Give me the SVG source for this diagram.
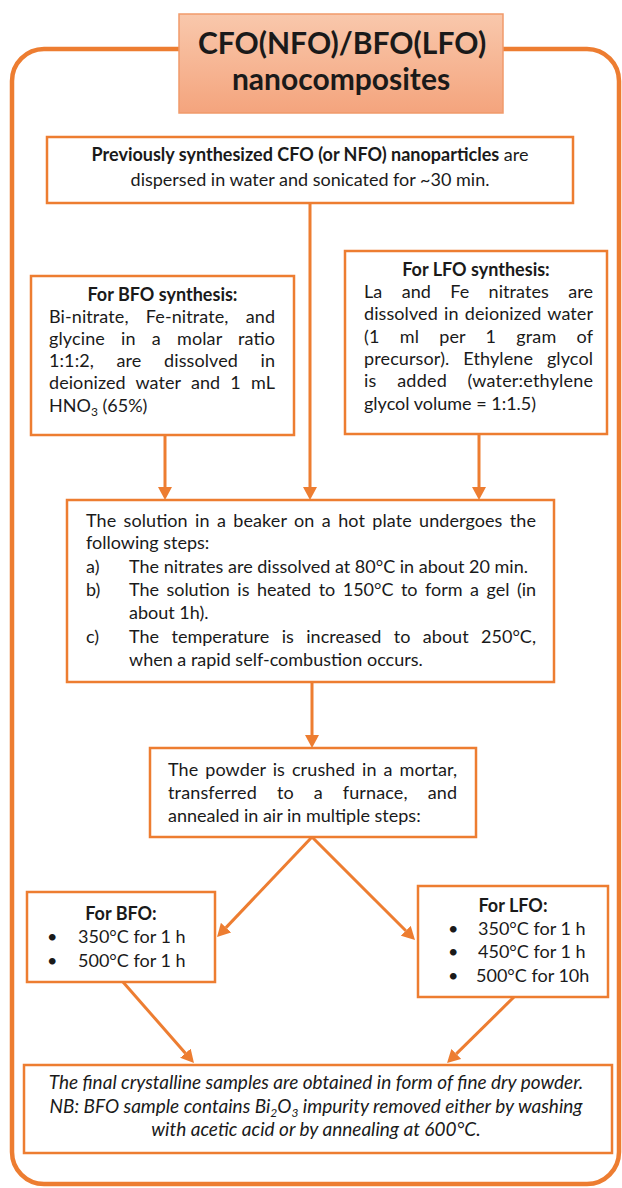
<svg xmlns="http://www.w3.org/2000/svg" width="622" height="1188" viewBox="0 0 622 1188">
<defs>
<linearGradient id="tg" x1="0" y1="0" x2="0" y2="1">
<stop offset="0" stop-color="#F9C8AC"/>
<stop offset="1" stop-color="#F4A47D"/>
</linearGradient>
<marker id="ah" viewBox="0 0 13 14" refX="0" refY="7" markerWidth="13" markerHeight="14" markerUnits="userSpaceOnUse" orient="auto">
<path d="M0,0 L13,7 L0,14 z" fill="#ED7D31"/>
</marker>
<style>
.box{fill:#fff;stroke:#ED7D31;stroke-width:2.5}
.t{font-family:Lato,'Liberation Sans',sans-serif;font-size:18px;fill:#1a1a1a}
.b{font-weight:bold}
.i{font-style:italic;font-size:19px}
.c{text-anchor:middle}
.con{stroke:#ED7D31;stroke-width:3;fill:none}
.sub{font-size:12px}
</style>
</defs>
<rect x="0" y="0" width="622" height="1188" fill="#fff"/>
<g id="frame">
<rect x="12" y="49" width="607" height="1135" rx="32" ry="32" fill="none" stroke="#ED7D31" stroke-width="4.5"/>
</g>
<g id="title">
<rect x="179" y="14" width="324" height="99" fill="url(#tg)" stroke="#F19A6B" stroke-width="1.5"/>
<text x="342" y="54" class="t b c" style="font-size:30px">CFO(NFO)/BFO(LFO)</text>
<text x="341" y="90" class="t b c" style="font-size:30px">nanocomposites</text>
</g>
<g id="connectors">
<line x1="310" y1="203" x2="310" y2="487" class="con" marker-end="url(#ah)"/>
<line x1="165" y1="435" x2="165" y2="487" class="con" marker-end="url(#ah)"/>
<line x1="479" y1="434" x2="479" y2="487" class="con" marker-end="url(#ah)"/>
<line x1="312" y1="682" x2="312" y2="735" class="con" marker-end="url(#ah)"/>
<line x1="312" y1="837" x2="226" y2="927.6" class="con" marker-end="url(#ah)"/>
<line x1="312" y1="837" x2="405.8" y2="930.8" class="con" marker-end="url(#ah)"/>
<line x1="123" y1="982" x2="185.4" y2="1053.2" class="con" marker-end="url(#ah)"/>
<line x1="514" y1="997" x2="456.3" y2="1053.9" class="con" marker-end="url(#ah)"/>
</g>
<g id="start">
<rect x="47" y="137" width="526" height="66" class="box"/>
<text x="310" y="161" class="t c"><tspan class="b">Previously synthesized CFO (or NFO) nanoparticles</tspan> are</text>
<text x="310" y="186" class="t c">dispersed in water and sonicated for ~30 min.</text>
</g>
<g id="bfo-synthesis">
<rect x="31" y="276" width="263" height="159" class="box"/>
<text x="162.5" y="301" class="t b c">For BFO synthesis:</text>
<text x="49" y="323" class="t" style="word-spacing:12.5px" textLength="226" lengthAdjust="spacing">Bi-nitrate, Fe-nitrate, and</text>
<text x="49" y="345" class="t" style="word-spacing:11.4px" textLength="226" lengthAdjust="spacing">glycine in a molar ratio</text>
<text x="49" y="367" class="t" style="word-spacing:18px" textLength="226" lengthAdjust="spacing">1:1:2, are dissolved in</text>
<text x="49" y="389" class="t" style="word-spacing:5.5px" textLength="226" lengthAdjust="spacing">deionized water and 1 mL</text>
<text x="49" y="412" class="t">HNO<tspan class="sub" dy="4">3</tspan><tspan dy="-4"> (65%)</tspan></text>
</g>
<g id="lfo-synthesis">
<rect x="345" y="251" width="262" height="183" class="box"/>
<text x="476" y="276" class="t b c">For LFO synthesis:</text>
<text x="364" y="298" class="t" style="word-spacing:14.6px" textLength="229" lengthAdjust="spacing">La and Fe nitrates are</text>
<text x="364" y="320" class="t" style="word-spacing:1.5px" textLength="229" lengthAdjust="spacing">dissolved in deionized water</text>
<text x="364" y="343" class="t" style="word-spacing:15.5px" textLength="229" lengthAdjust="spacing">(1 ml per 1 gram of</text>
<text x="364" y="365" class="t" style="word-spacing:9.1px" textLength="229" lengthAdjust="spacing">precursor). Ethylene glycol</text>
<text x="364" y="387" class="t" style="word-spacing:15.9px" textLength="229" lengthAdjust="spacing">is added (water:ethylene</text>
<text x="364" y="410" class="t">glycol volume = 1:1.5)</text>
</g>
<g id="solution">
<rect x="67" y="500" width="487" height="182" class="box"/>
<text x="86" y="527" class="t" style="word-spacing:2.7px" textLength="450" lengthAdjust="spacing">The solution in a beaker on a hot plate undergoes the</text>
<text x="86" y="549" class="t">following steps:</text>
<text x="86" y="573" class="t">a)</text>
<text x="129" y="573" class="t">The nitrates are dissolved at 80°C in about 20 min.</text>
<text x="86" y="596" class="t">b)</text>
<text x="129" y="596" class="t" style="word-spacing:3px" textLength="407" lengthAdjust="spacing">The solution is heated to 150°C to form a gel (in</text>
<text x="129" y="619" class="t">about 1h).</text>
<text x="86" y="643" class="t">c)</text>
<text x="129" y="643" class="t" style="word-spacing:7.8px" textLength="407" lengthAdjust="spacing">The temperature is increased to about 250°C,</text>
<text x="129" y="666" class="t">when a rapid self-combustion occurs.</text>
</g>
<g id="powder">
<rect x="150" y="748" width="326" height="89" class="box"/>
<text x="168" y="776" class="t" style="word-spacing:2.2px" textLength="289" lengthAdjust="spacing">The powder is crushed in a mortar,</text>
<text x="168" y="799" class="t" style="word-spacing:15.2px" textLength="289" lengthAdjust="spacing">transferred to a furnace, and</text>
<text x="168" y="822" class="t">annealed in air in multiple steps:</text>
</g>
<g id="bfo-anneal">
<rect x="27" y="892" width="188" height="90" class="box"/>
<text x="121" y="920" class="t b c">For BFO:</text>
<text x="47" y="943" class="t">•</text>
<text x="78" y="943" class="t">350°C for 1 h</text>
<text x="47" y="967" class="t">•</text>
<text x="78" y="967" class="t">500°C for 1 h</text>
</g>
<g id="lfo-anneal">
<rect x="418" y="886" width="190" height="111" class="box"/>
<text x="513" y="912" class="t b c">For LFO:</text>
<text x="448" y="935" class="t">•</text>
<text x="478" y="935" class="t">350°C for 1 h</text>
<text x="448" y="958" class="t">•</text>
<text x="478" y="958" class="t">450°C for 1 h</text>
<text x="448" y="982" class="t">•</text>
<text x="476" y="982" class="t">500°C for 10h</text>
</g>
<g id="final">
<rect x="24" y="1065" width="588" height="88" class="box"/>
<text x="316" y="1089" class="t i c">The final crystalline samples are obtained in form of fine dry powder.</text>
<text x="316" y="1113" class="t i c">NB: BFO sample contains Bi<tspan class="sub" dy="4">2</tspan><tspan dy="-4">O</tspan><tspan class="sub" dy="4">3</tspan><tspan dy="-4"> impurity removed either by washing</tspan></text>
<text x="316" y="1136" class="t i c">with acetic acid or by annealing at 600°C.</text>
</g>
</svg>
